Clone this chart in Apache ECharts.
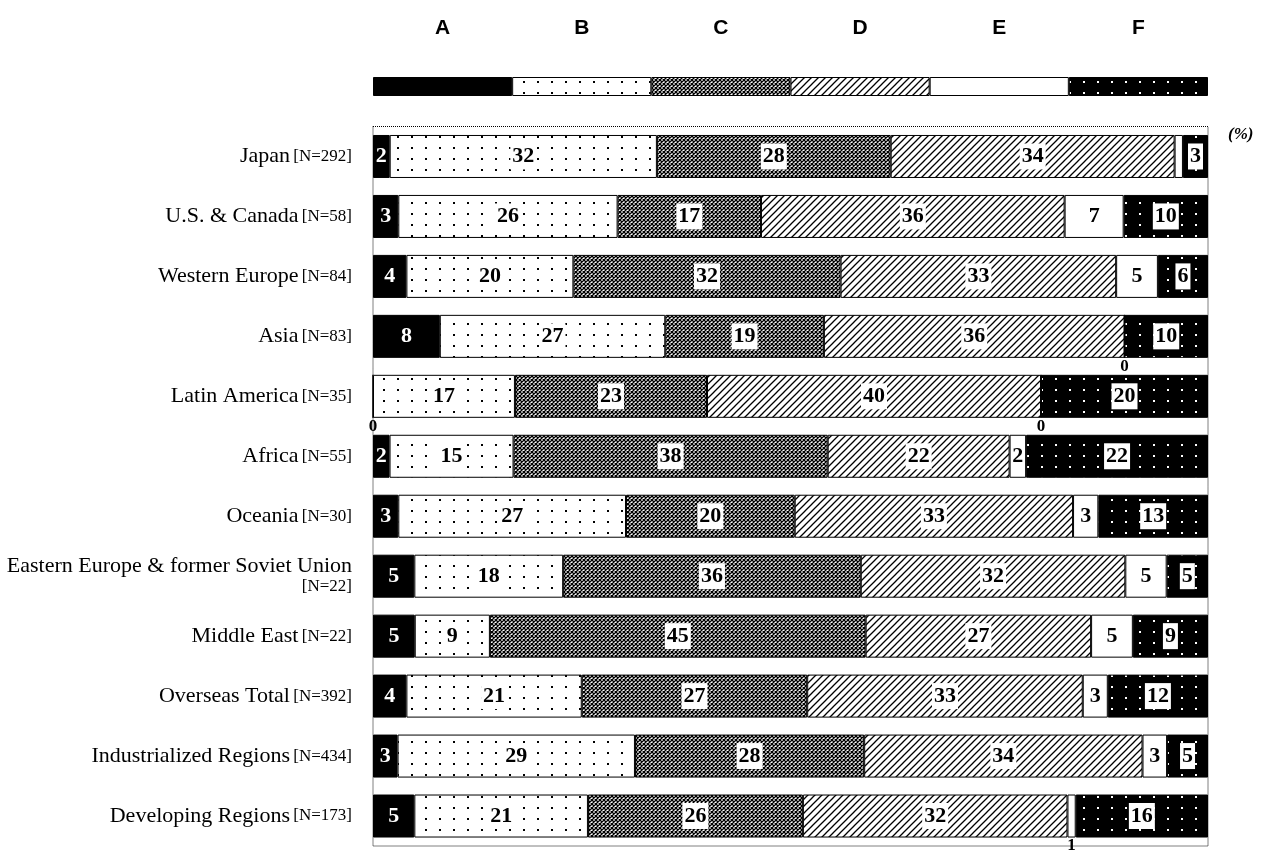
<!DOCTYPE html>
<html>
<head>
<meta charset="utf-8">
<script src="https://cdn.jsdelivr.net/npm/echarts@6/dist/echarts.min.js"></script>
<style>html,body{margin:0;padding:0;background:#fff}#c{width:1266px;height:854px}</style>
</head>
<body>
<div id="c"></div>
<script>
var regions = ['Japan','U.S. & Canada','Western Europe','Asia','Latin America','Africa','Oceania','Eastern Europe & former Soviet Union','Middle East','Overseas Total','Industrialized Regions','Developing Regions'];
var sampleN = [292,58,84,83,35,55,30,22,22,392,434,173];
var seriesNames = ['A','B','C','D','E','F'];
var valA = [2,3,4,8,0,2,3,5,5,4,3,5];
var valB = [32,26,20,27,17,15,27,18,9,21,29,21];
var valC = [28,17,32,19,23,38,20,36,45,27,28,26];
var valD = [34,36,33,36,40,22,33,32,27,33,34,32];
var valE = [1,7,5,0,0,2,3,5,5,3,3,1];
var valF = [3,10,6,10,20,22,13,5,9,12,5,16];
var allVals = [valA,valB,valC,valD,valE,valF];

function tile(w,h,draw){var c=document.createElement('canvas');c.width=w;c.height=h;var g=c.getContext('2d');draw(g,w,h);return c;}
var patB = tile(14,11,function(g,w,h){g.fillStyle='#fff';g.fillRect(0,0,w,h);g.fillStyle='#000';g.fillRect(5,4,2,2);});
var patC = tile(4,4,function(g,w,h){g.fillStyle='#fff';g.fillRect(0,0,w,h);g.strokeStyle='#000';g.lineWidth=1.25;g.beginPath();g.moveTo(0,0);g.lineTo(4,4);g.moveTo(0,4);g.lineTo(4,0);g.stroke();});
var patD = tile(7,7,function(g,w,h){g.fillStyle='#fff';g.fillRect(0,0,w,h);g.strokeStyle='#000';g.lineWidth=1.3;g.beginPath();g.moveTo(-1,8);g.lineTo(8,-1);g.moveTo(-1,1);g.lineTo(1,-1);g.moveTo(6,8);g.lineTo(8,6);g.stroke();});
var patF = tile(14,11,function(g,w,h){g.fillStyle='#000';g.fillRect(0,0,w,h);g.fillStyle='#fff';g.fillRect(5,4,2,2);});
var fills = ['#000',{image:patB,repeat:'repeat'},{image:patC,repeat:'repeat'},{image:patD,repeat:'repeat'},'#fff',{image:patF,repeat:'repeat'}];

var rowSums = regions.map(function(_,i){var s=0;allVals.forEach(function(a){s+=a[i];});return s;});

var serif = 'Liberation Serif, Times New Roman, serif';
var series = [];
seriesNames.forEach(function(nm,si){
  var data = allVals[si].map(function(v,i){
    var item = {value: v*100/rowSums[i], raw: v};
    var small = (v===0) || (si===4 && v<=1);
    if (small) {
      if (i===0 && si===4) { item.label = {show:false}; }
      else item.label = {position:'bottom', distance:0, color:'#000', backgroundColor:'transparent', fontSize:17, padding:0};
    }
    return item;
  });
  series.push({
    name: nm, type:'bar', stack:'t', xAxisIndex:0, yAxisIndex:0, barWidth:43,
    itemStyle:{color:fills[si], borderColor:'#000', borderWidth:1},
    label:{show:true, position:'inside', fontFamily:serif, fontWeight:'bold', fontSize:22,
      color: si===0?'#fff':'#000', backgroundColor: (si===0||si===4)?'transparent':'#fff', padding:[3,2,1,2],
      formatter:function(p){return p.data.raw;}},
    data:data
  });
  series.push({
    name: nm+'_legend', type:'bar', stack:'lg', xAxisIndex:1, yAxisIndex:1, barWidth:'100%',
    itemStyle:{color:fills[si], borderColor:'#000', borderWidth:1},
    label:{show:true, position:'top', distance:38, color:'#000', fontFamily:'Liberation Sans, Arial, sans-serif', fontWeight:'bold', fontSize:21, formatter:nm},
    data:[1]
  });
});

var chart = echarts.init(document.getElementById('c'));
chart.setOption({
  animation:false,
  backgroundColor:'#fff',
  grid:[
    {left:373, right:58, top:126.5, bottom:8, show:true, borderColor:'#000', borderWidth:1, borderType:'dotted', backgroundColor:'transparent'},
    {left:373, right:58, top:77, height:19}
  ],
  xAxis:[
    {type:'value', gridIndex:0, min:0, max:100, show:false},
    {type:'value', gridIndex:1, min:0, max:6, show:false}
  ],
  yAxis:[
    {type:'category', gridIndex:0, inverse:true, data:regions,
      axisLine:{show:false}, axisTick:{show:false}, splitLine:{show:false},
      axisLabel:{margin:21, color:'#000', align:'right',
        formatter:function(v){
          var idx = regions.indexOf(v);
          if (v.length>30) return '{n|'+v+'}\n{s|[N='+sampleN[idx]+']}';
          return '{n|'+v+'} {s|[N='+sampleN[idx]+']}';
        },
        rich:{n:{fontFamily:serif, fontSize:22, color:'#000', align:'right', lineHeight:20}, s:{fontFamily:serif, fontSize:17, color:'#000', align:'right', lineHeight:20}}
      }},
    {type:'category', gridIndex:1, data:['legend'], show:false}
  ],
  graphic:[
    {type:'text', left:1228, top:126, style:{text:'(%)', font:'italic bold 17px Liberation Serif', fill:'#000'}}
  ],
  series:series
});
</script>
</body>
</html>
